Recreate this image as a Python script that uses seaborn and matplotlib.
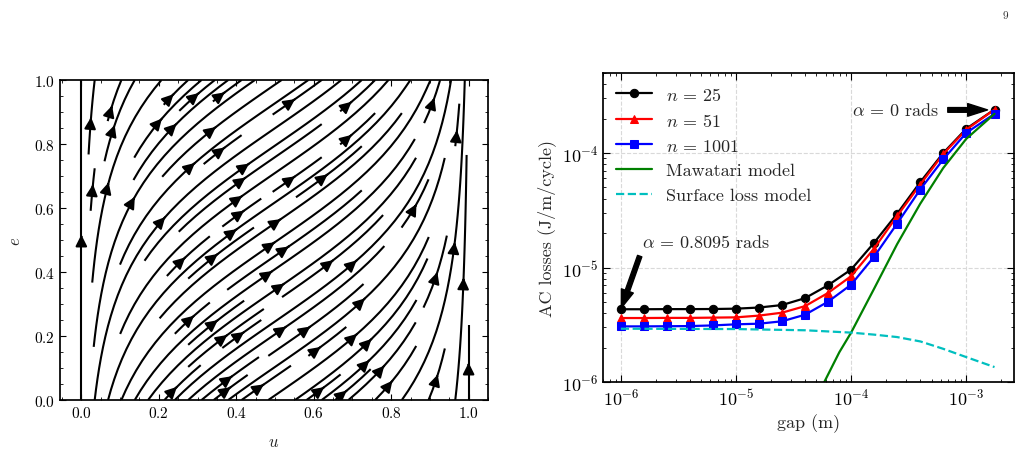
import numpy as np
import seaborn as sns
import matplotlib.pyplot as plt
from matplotlib.ticker import AutoMinorLocator

# right panel: AC losses vs gap
gap = [1.0e-6, 1.58e-6, 2.51e-6, 3.98e-6, 6.31e-6, 1.0e-5, 1.58e-5, 2.51e-5,
       3.98e-5, 6.31e-5, 1.0e-4, 1.58e-4, 2.51e-4, 3.98e-4, 6.31e-4, 1.0e-3, 1.76e-3]
loss_n25 = [4.32e-6, 4.32e-6, 4.33e-6, 4.33e-6, 4.34e-6, 4.37e-6, 4.47e-6, 4.7e-6,
            5.4e-6, 7.0e-6, 9.6e-6, 1.64e-5, 2.95e-5, 5.56e-5, 1.0e-4, 1.63e-4, 2.4e-4]
loss_n51 = [3.62e-6, 3.62e-6, 3.63e-6, 3.63e-6, 3.65e-6, 3.67e-6, 3.8e-6, 4.03e-6,
            4.6e-6, 6.0e-6, 8.4e-6, 1.46e-5, 2.82e-5, 5.3e-5, 9.8e-5, 1.6e-4, 2.4e-4]
loss_n1001 = [3.06e-6, 3.06e-6, 3.07e-6, 3.08e-6, 3.12e-6, 3.19e-6, 3.23e-6, 3.39e-6,
              3.87e-6, 5.03e-6, 7.08e-6, 1.24e-5, 2.42e-5, 4.8e-5, 8.8e-5, 1.5e-4, 2.2e-4]

gap_maw = [5.0e-5, 5.85e-5, 7.9e-5, 1.0e-4, 1.58e-4, 2.51e-4, 3.98e-4, 6.31e-4, 1.0e-3, 1.76e-3]
loss_maw = [7.4e-7, 1.0e-6, 1.82e-6, 2.7e-6, 6.5e-6, 1.6e-5, 3.6e-5, 7.4e-5, 1.33e-4, 2.2e-4]

gap_surf = [1.0e-6, 1.0e-5, 4.0e-5, 1.0e-4, 1.6e-4, 2.5e-4, 4.0e-4, 6.3e-4, 1.0e-3, 1.76e-3]
loss_surf = [2.92e-6, 2.9e-6, 2.83e-6, 2.7e-6, 2.59e-6, 2.47e-6, 2.26e-6, 1.95e-6, 1.65e-6, 1.35e-6]

series = [
    (loss_n25, "#000000", "o", r"$n\,=\,25$"),
    (loss_n51, "#ff0000", "^", r"$n\,=\,51$"),
    (loss_n1001, "#0000ff", "s", r"$n\,=\,1001$"),
]

# left panel: streamlines on the unit square
u_grid = np.linspace(0, 1, 60)
e_grid = np.linspace(0, 1, 60)

sns.set_theme(style="ticks")
plt.rcParams["font.family"] = "serif"
plt.rcParams["font.serif"] = ["cmr10", "DejaVu Serif"]
plt.rcParams["mathtext.fontset"] = "cm"
plt.rcParams["axes.formatter.use_mathtext"] = True
plt.rcParams["axes.unicode_minus"] = False
plt.rcParams["axes.edgecolor"] = "black"
plt.rcParams["xtick.color"] = "black"
plt.rcParams["ytick.color"] = "black"

fig = plt.figure(figsize=(10.28, 4.56), dpi=100)
ax1 = fig.add_axes([0.0584, 0.1206, 0.4163, 0.7018])
ax2 = fig.add_axes([0.5866, 0.1601, 0.3998, 0.6776])

# streamplot
U, E = np.meshgrid(u_grid, e_grid)
du = 1.2 * (4 * U * (1 - U)) ** 1.25
de = np.ones_like(E)
ax1.streamplot(U, E, du, de, color="#000000", linewidth=1.5, density=1.0, arrowsize=1.7)
ax1.set_xlim(-0.055, 1.05)
ax1.set_ylim(0, 1)
ax1.set_xlabel(r"$u$", fontsize=12, labelpad=10)
ax1.set_ylabel(r"$e$", fontsize=12, labelpad=8)
ax1.xaxis.set_minor_locator(AutoMinorLocator())
ax1.yaxis.set_minor_locator(AutoMinorLocator())
ax1.tick_params(which="both", direction="in", top=True, right=True, labelsize=11)
ax1.tick_params(which="major", length=4, width=0.8)
ax1.tick_params(which="minor", length=2, width=0.6)

# losses
for vals, col, mk, lab in series:
    sns.lineplot(x=gap, y=vals, ax=ax2, color=col, marker=mk, markersize=6,
                 markeredgecolor=col, linewidth=1.6, label=lab)
sns.lineplot(x=gap_maw, y=loss_maw, ax=ax2, color="#008000", linewidth=1.6,
             label="Mawatari model")
sns.lineplot(x=gap_surf, y=loss_surf, ax=ax2, color="#00bfbf", linewidth=1.6,
             linestyle="--", label="Surface loss model")

ax2.set_xscale("log")
ax2.set_yscale("log")
ax2.set_xlim(7.0e-7, 2.6e-3)
ax2.set_ylim(1e-6, 5e-4)
ax2.grid(True, which="major", linestyle="--", color="0.85", linewidth=0.8)
ax2.set_xlabel("gap (m)", fontsize=13)
ax2.set_ylabel("AC losses (J/m/cycle)", fontsize=13)
ax2.tick_params(which="both", direction="in", top=True, right=True, labelsize=13)
ax2.tick_params(which="major", length=5, width=0.8)
ax2.tick_params(which="minor", length=2.5, width=0.6)

ax2.annotate(r"$\alpha\,=\,0.8095$ rads", xy=(1.0e-6, 4.32e-6), xytext=(1.52e-6, 1.68e-5),
             ha="left", va="center", fontsize=13,
             arrowprops=dict(arrowstyle="simple,head_width=0.7,head_length=1.0,tail_width=0.25",
                             fc="#000000", ec="#000000", relpos=(0.0, 0.0), shrinkA=2, shrinkB=1))
ax2.annotate(r"$\alpha\,=\,0$ rads", xy=(1.76e-3, 2.38e-4), xytext=(1.02e-4, 2.38e-4),
             ha="left", va="center", fontsize=13,
             arrowprops=dict(arrowstyle="simple,head_width=0.7,head_length=1.1,tail_width=0.26",
                             fc="#000000", ec="#000000", shrinkA=4, shrinkB=5))

ax2.legend(loc="upper left", frameon=False, fontsize=13, handlelength=2.0,
           borderaxespad=0.3, labelspacing=0.5)

fig.text(0.978, 0.965, "9", fontsize=8, ha="center", va="center")

fig.savefig("out.png", dpi=100)
